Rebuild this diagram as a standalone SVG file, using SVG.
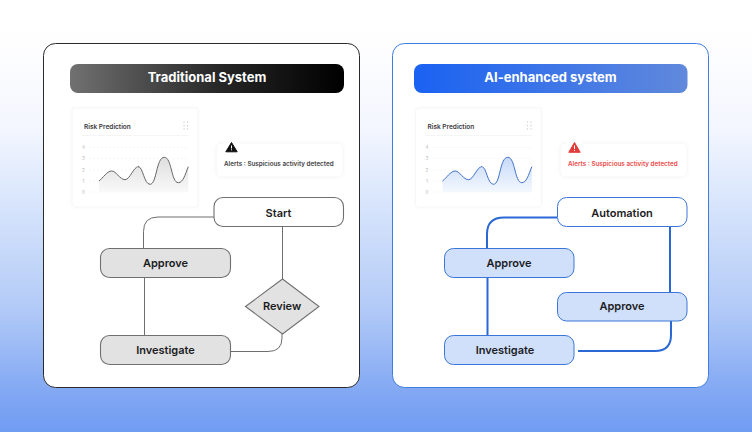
<svg xmlns="http://www.w3.org/2000/svg" width="752" height="432" viewBox="0 0 752 432">
<style>
text{font-family:Inter,"Liberation Sans",sans-serif;text-anchor:middle}
.title{font-size:13px;font-weight:700;fill:#fff}
.lbl{font-size:11px;font-weight:600;fill:#1c1c1e}
.card{fill:#fff;stroke:#f6f6f8;stroke-width:1;filter:url(#soft)}
.ct{font-size:6.5px;font-weight:600;fill:#3a3a3e;text-anchor:start}
.ax{font-size:4.6px;fill:#b8b8b8}
.grid{stroke:#f0f0f0;stroke-width:.7;stroke-dasharray:2 2;fill:none}
.div{stroke:#f2f2f2;stroke-width:.8}
.dot{fill:#cfcfcf}
.alert{font-size:6.3px;font-weight:600;text-anchor:start}
.k{fill:#fff;stroke:#707070;stroke-width:1.1}
.g{fill:#e2e2e2;stroke:#707070;stroke-width:1.1}
.bw{fill:#fff;stroke:#3a76d8;stroke-width:1}
.b{fill:#d0e0fb;stroke:#3a76d8;stroke-width:1}
.cg{fill:none;stroke:#6f6f6f;stroke-width:1}
.cb{fill:none;stroke:#2a68d6;stroke-width:2}
</style>
<defs>
<linearGradient id="bg" x1="0" y1="0" x2="0" y2="1"><stop offset="0" stop-color="#fff"/><stop offset=".1" stop-color="#fefeff"/><stop offset=".3" stop-color="#f3f6fe"/><stop offset=".46" stop-color="#d9e6fc"/><stop offset=".7" stop-color="#b5ccf7"/><stop offset=".92" stop-color="#7fa6f3"/><stop offset="1" stop-color="#709cf1"/></linearGradient>
<linearGradient id="hk" x1="0" y1="0" x2="1" y2="0"><stop offset="0" stop-color="#717171"/><stop offset=".55" stop-color="#262626"/><stop offset="1" stop-color="#000"/></linearGradient>
<linearGradient id="hb" x1="0" y1="0" x2="1" y2="0"><stop offset="0" stop-color="#1a62f2"/><stop offset="1" stop-color="#6189dc"/></linearGradient>
<linearGradient id="ak" x1="0" y1="0" x2="0" y2="1"><stop offset="0" stop-color="#dedede"/><stop offset="1" stop-color="#f9f9f9"/></linearGradient>
<linearGradient id="ab" x1="0" y1="0" x2="0" y2="1"><stop offset="0" stop-color="#c6d9f9"/><stop offset="1" stop-color="#f4f8fe"/></linearGradient>
<filter id="soft" x="-10%" y="-10%" width="120%" height="120%"><feDropShadow dx="0" dy="0" stdDeviation="1.5" flood-color="#000" flood-opacity=".03"/></filter>
</defs>
<rect width="752" height="432" fill="url(#bg)"/>
<rect x="43.500" y="43.500" width="316" height="344" rx="12" fill="#fff" stroke="#2a2a2a"/>
<rect x="392.500" y="43.500" width="316" height="344" rx="12" fill="#fff" stroke="#3f7ede"/>

<g id="left-header"><rect x="70" y="64" width="274" height="29" rx="8" fill="url(#hk)"/><text class="title" x="207" y="81.500">Traditional System</text></g>
<g id="left-chart">
<rect class="card" x="72" y="108" width="126" height="99" rx="3"/>
<text class="ct" x="84" y="128.500">Risk Prediction</text>
<g class="dot"><circle cx="184" cy="122" r=".7"/><circle cx="187.500" cy="122" r=".7"/><circle cx="184" cy="125.500" r=".7"/><circle cx="187.500" cy="125.500" r=".7"/><circle cx="184" cy="129" r=".7"/><circle cx="187.500" cy="129" r=".7"/></g>
<line class="div" x1="82" y1="135.500" x2="188" y2="135.500"/>
<g class="ax"><text x="83.500" y="149">4</text><text x="83.500" y="160">3</text><text x="83.500" y="171.500">2</text><text x="83.500" y="182.500">1</text><text x="83.500" y="193.500">0</text></g>
<path class="grid" d="M89 147.500H188M89 158.500H188M89 170H188M89 181H188M89 192H188"/>
<path d="M99 181C103 178 107 171 111.700 171C116 171 120 179.700 125 179.700C130 179.700 133.500 166.700 138.300 166.700C143 166.700 144 184.300 150 184.300C157 184.300 156 157.300 164.300 157.300C172 157.300 171 182.700 178.300 182.700C183 182.700 185 175 188.300 166.700V192H99Z" fill="url(#ak)"/>
<path d="M99 181C103 178 107 171 111.700 171C116 171 120 179.700 125 179.700C130 179.700 133.500 166.700 138.300 166.700C143 166.700 144 184.300 150 184.300C157 184.300 156 157.300 164.300 157.300C172 157.300 171 182.700 178.300 182.700C183 182.700 185 175 188.300 166.700" fill="none" stroke="#666" stroke-width="1"/>
<circle cx="138.300" cy="166.700" r="1" fill="#444" stroke="#fff" stroke-width=".6"/>
</g>
<g id="left-alert">
<rect class="card" x="216" y="143" width="127" height="34" rx="5"/>
<circle cx="231.500" cy="147.500" r="9" fill="#fff"/>
<path d="M231.500 142.500L225.800 151.800H237.200Z" fill="#111" stroke="#111" stroke-linejoin="round"/>
<rect x="231" y="145.500" width="1" height="3" fill="#fff"/><rect x="231" y="149.300" width="1" height="1" fill="#fff"/>
<text class="alert" x="224" y="166" fill="#444">Alerts : Suspicious activity detected</text>
</g>

<g id="left-connectors">
<path class="cg" d="M214 217H158Q143.500 217 143.500 231.500V248"/>
<path class="cg" d="M282.500 226V279"/>
<path class="cg" d="M144.500 277.500V335"/>
<path class="cg" d="M231 351.500H268Q282 351.500 282 338V334"/>
</g>
<g id="left-start"><rect class="k" x="214" y="197.500" width="129.500" height="29" rx="9"/><text class="lbl" x="278.500" y="216.500">Start</text></g>
<g id="left-approve"><rect class="g" x="100.500" y="248.500" width="130" height="29" rx="9"/><text class="lbl" x="165.500" y="267">Approve</text></g>
<g id="left-review"><path class="g" d="M282.500 279L319 306.500L282.500 334L245.500 306.500Z"/><text class="lbl" x="282" y="310">Review</text></g>
<g id="left-investigate"><rect class="g" x="100.500" y="335.500" width="130" height="29" rx="9"/><text class="lbl" x="165.500" y="354">Investigate</text></g>

<g id="right-header"><rect x="414" y="64" width="273.500" height="29" rx="8" fill="url(#hb)"/><text class="title" x="550.500" y="81.500">AI-enhanced system</text></g>
<g id="right-chart">
<rect class="card" x="415.500" y="108" width="126" height="99" rx="3"/>
<text class="ct" x="427.500" y="128.500">Risk Prediction</text>
<g class="dot"><circle cx="527.500" cy="122" r=".7"/><circle cx="531" cy="122" r=".7"/><circle cx="527.500" cy="125.500" r=".7"/><circle cx="531" cy="125.500" r=".7"/><circle cx="527.500" cy="129" r=".7"/><circle cx="531" cy="129" r=".7"/></g>
<line class="div" x1="425.500" y1="135.500" x2="531.500" y2="135.500"/>
<g class="ax"><text x="427" y="149">4</text><text x="427" y="160">3</text><text x="427" y="171.500">2</text><text x="427" y="182.500">1</text><text x="427" y="193.500">0</text></g>
<path class="grid" d="M432.500 147.500H531.500M432.500 158.500H531.500M432.500 170H531.500M432.500 181H531.500M432.500 192H531.500"/>
<path d="M442.500 181C446.500 178 450.500 171 455.200 171C459.500 171 463.500 179.700 468.500 179.700C473.500 179.700 477 166.700 481.800 166.700C486.500 166.700 487.500 184.300 493.500 184.300C500.500 184.300 499.500 157.300 507.800 157.300C515.500 157.300 514.500 182.700 521.800 182.700C526.500 182.700 528.500 175 531.800 166.700V192H442.500Z" fill="url(#ab)"/>
<path d="M442.500 181C446.500 178 450.500 171 455.200 171C459.500 171 463.500 179.700 468.500 179.700C473.500 179.700 477 166.700 481.800 166.700C486.500 166.700 487.500 184.300 493.500 184.300C500.500 184.300 499.500 157.300 507.800 157.300C515.500 157.300 514.500 182.700 521.800 182.700C526.500 182.700 528.500 175 531.800 166.700" fill="none" stroke="#3f70c8" stroke-width="1"/>
<circle cx="481.800" cy="166.700" r="1" fill="#2d5fb8" stroke="#fff" stroke-width=".6"/>
</g>
<g id="right-alert">
<rect class="card" x="560" y="143" width="127" height="34" rx="5"/>
<circle cx="574.500" cy="147.500" r="9" fill="#fff"/>
<path d="M574.500 142.500L568.800 152.300H580.200Z" fill="#e03c3c" stroke="#e03c3c" stroke-linejoin="round"/>
<rect x="574" y="145.500" width="1" height="3.500" fill="#fff"/><rect x="574" y="150" width="1" height="1" fill="#fff"/>
<text class="alert" x="568" y="166" fill="#ee4a4a">Alerts : Suspicious activity detected</text>
</g>

<g id="right-connectors">
<path class="cb" d="M557 217.500H504Q487 217.500 487 234V248"/>
<path class="cb" d="M487.500 278V335"/>
<path class="cb" d="M670 226V292"/>
<path class="cb" d="M671 321V335Q671 351 655 351H578"/>
</g>
<g id="right-automation"><rect class="bw" x="557.500" y="197.500" width="129.500" height="29" rx="9"/><text class="lbl" x="622" y="216.500">Automation</text></g>
<g id="right-approve-1"><rect class="b" x="444.500" y="248.500" width="129.500" height="29" rx="9"/><text class="lbl" x="509" y="267">Approve</text></g>
<g id="right-approve-2"><rect class="b" x="557.500" y="292.500" width="129.500" height="28.500" rx="9"/><text class="lbl" x="622" y="310">Approve</text></g>
<g id="right-investigate"><rect class="b" x="444.500" y="335.500" width="129.500" height="29" rx="9"/><text class="lbl" x="505" y="354">Investigate</text></g>
</svg>
